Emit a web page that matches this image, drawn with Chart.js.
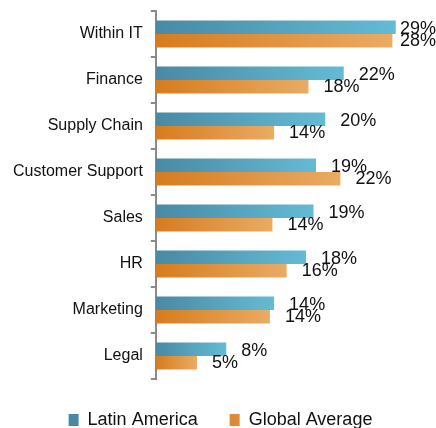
<!DOCTYPE html>
<html>
<head>
<meta charset="utf-8">
<script src="https://cdn.jsdelivr.net/npm/chart.js@4/dist/chart.umd.min.js"></script>
<style>
html,body{margin:0;padding:0;background:#fff;}
#wrap{width:436px;height:428px;position:relative;}
</style>
</head>
<body>
<div id="wrap"><canvas id="c" width="436" height="428"></canvas></div>
<script>
const categories = ["Within IT","Finance","Supply Chain","Customer Support","Sales","HR","Marketing","Legal"];
const seriesNames = ["Latin America","Global Average"];
const latinAmerica = [28.6,22.4,20.2,19.1,18.8,17.9,14.1,8.4];
const globalAverage = [28.2,18.2,14.1,22.0,13.9,15.6,13.6,4.9];

const FONT = '"Liberation Sans", Arial, Helvetica, sans-serif';
const PAL = [
  {dark:'#4a89a4', light:'#64bbd4', mid:'#579fba'},
  {dark:'#d67c1e', light:'#eaab64', mid:'#e0943f'}
];

function gradFor(i){
  return function(c){
    const chart = c.chart;
    const p = PAL[i];
    if (c.type !== 'data' || !chart.chartArea || !chart.scales.x) return p.mid;
    const xs = chart.scales.x;
    const x0 = xs.getPixelForValue(0);
    const x1 = xs.getPixelForValue(c.raw);
    if (!isFinite(x0) || !isFinite(x1) || x1 - x0 < 1) return p.mid;
    const g = chart.ctx.createLinearGradient(x0, 0, x1, 0);
    g.addColorStop(0, p.dark);
    g.addColorStop(1, p.light);
    return g;
  };
}

const labelPlugin = {
  id: 'valueLabels',
  afterDatasetsDraw(chart){
    const ctx = chart.ctx;
    ctx.save();
    ctx.font = '18px ' + FONT;
    ctx.fillStyle = '#111111';
    ctx.textBaseline = 'middle';
    ctx.textAlign = 'left';
    chart.data.datasets.forEach((ds, di) => {
      const meta = chart.getDatasetMeta(di);
      meta.data.forEach((bar, i) => {
        const txt = Math.round(ds.data[i]) + '%';
        const w = ctx.measureText(txt).width;
        let x = bar.x + 15;
        if (x + w > chart.width) x = chart.width - w;
        ctx.fillText(txt, x, bar.y + (di === 0 ? 1.5 : 0.5));
      });
    });
    ctx.restore();
  }
};

new Chart(document.getElementById('c'), {
  type: 'bar',
  data: {
    labels: categories,
    datasets: [
      {label: seriesNames[0], data: latinAmerica, backgroundColor: gradFor(0), borderWidth: 0},
      {label: seriesNames[1], data: globalAverage, backgroundColor: gradFor(1), borderWidth: 0}
    ]
  },
  options: {
    indexAxis: 'y',
    responsive: false,
    animation: false,
    devicePixelRatio: 1,
    categoryPercentage: 0.59,
    barPercentage: 1.0,
    layout: {padding: {left: 5, right: 0, top: 11, bottom: -11}},
    scales: {
      x: {display: false, min: 0, max: 33.4},
      y: {
        afterFit(scale){ scale.paddingTop = 0; scale.paddingBottom = 0; },
        grid: {display: true, drawOnChartArea: false, drawTicks: true, tickLength: 5, color: '#8a8a8a', lineWidth: 2, offset: true},
        border: {display: true, color: '#8a8a8a', width: 2},
        ticks: {color: '#111111', padding: 8, font: {family: FONT, size: 16}}
      }
    },
    plugins: {
      legend: {
        position: 'bottom',
        labels: {boxWidth: 10, boxHeight: 12, padding: 32, color: '#111111', font: {family: FONT, size: 18}}
      },
      tooltip: {enabled: false}
    }
  },
  plugins: [labelPlugin]
});
</script>
</body>
</html>
